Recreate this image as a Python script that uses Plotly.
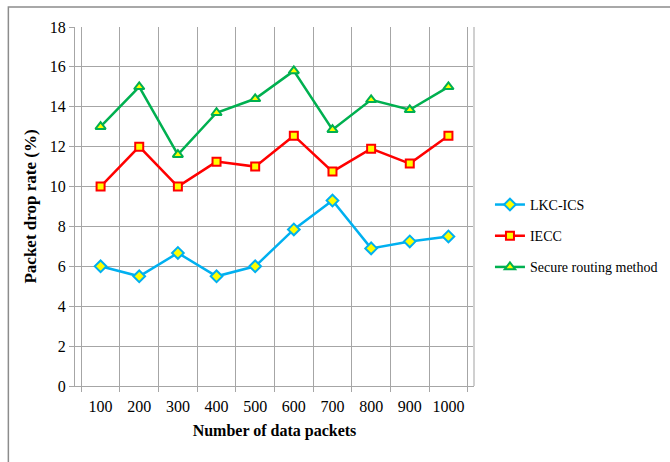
import plotly.graph_objects as go

# Packet drop rate (%) versus number of data packets
packets = ["100", "200", "300", "400", "500", "600", "700", "800", "900", "1000"]
lkc_ics = [6.0, 5.5, 6.67, 5.5, 6.0, 7.85, 9.3, 6.9, 7.25, 7.5]
iecc = [10.0, 12.0, 10.0, 11.25, 11.0, 12.55, 10.75, 11.9, 11.15, 12.55]
secure_routing = [13.0, 15.0, 11.6, 13.7, 14.4, 15.8, 12.85, 14.35, 13.85, 15.0]

y_ticks = list(range(0, 19, 2))

FONT = "'Liberation Serif', 'Times New Roman', serif"

series = [
    ("LKC-ICS", lkc_ics, "#00B0F0", "diamond", 9),
    ("IECC", iecc, "#FF0000", "square", 8),
    ("Secure routing method", secure_routing, "#00B050", "triangle-up", 9),
]

fig = go.Figure()
for i, (name, vals, color, symbol, size) in enumerate(series):
    fig.add_trace(go.Scatter(
        x=packets, y=vals, name=name, mode="lines+markers",
        legendgroup=f"g{i}",
        line=dict(color=color, width=2.5),
        marker=dict(symbol=symbol, size=size, color="#FFFF00",
                    line=dict(color=color, width=2)),
    ))

grid = "#A6A6A6"
fig.update_layout(
    width=670, height=462,
    margin=dict(l=75, r=196, t=27, b=76, autoexpand=False),
    paper_bgcolor="white", plot_bgcolor="white",
    font=dict(family=FONT, color="black"),
    showlegend=True,
    legend=dict(
        x=1.04, y=0.418, xanchor="left", yanchor="middle",
        font=dict(family=FONT, size=14, color="black"),
        traceorder="grouped", tracegroupgap=10,
        itemwidth=30, bgcolor="rgba(0,0,0,0)",
    ),
    xaxis=dict(
        type="category", tickson="boundaries", tickangle=0,
        showgrid=True, gridcolor=grid, gridwidth=1,
        showline=True, linecolor=grid, linewidth=1,
        ticks="outside", ticklen=5, tickcolor=grid,
        ticklabelstandoff=6,
        tickfont=dict(family=FONT, size=16),
        title=dict(text="<b>Number of data packets</b>",
                   font=dict(family=FONT, size=16), standoff=10),
        mirror=False,
    ),
    yaxis=dict(
        range=[0, 18], tickvals=y_ticks,
        showgrid=True, gridcolor=grid, gridwidth=1,
        showline=True, linecolor=grid, linewidth=1,
        ticks="outside", ticklen=5, tickcolor=grid,
        tickfont=dict(family=FONT, size=16),
        title=dict(text="<b>Packet drop rate (%)</b>",
                   font=dict(family=FONT, size=17), standoff=8),
        zeroline=False,
    ),
    shapes=[
        # right-hand frame of the plotting area
        dict(type="line", xref="paper", yref="paper", x0=1, x1=1, y0=0, y1=1,
             line=dict(color="#D0D0D0", width=2)),
        # outer chart border
        dict(type="rect", xref="paper", yref="paper",
             x0=-0.167, x1=1.52, y0=-0.25, y1=1.056,
             line=dict(color="#8C8C8C", width=1.5)),
    ],
)

fig.write_html("out.html")
